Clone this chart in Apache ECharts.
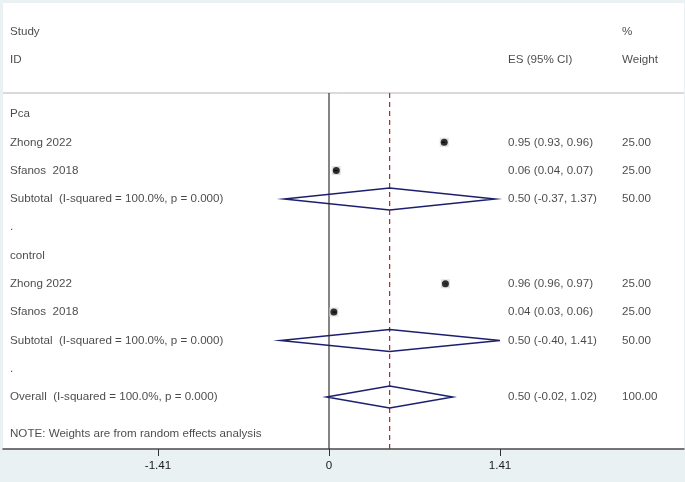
<!DOCTYPE html>
<html><head><meta charset="utf-8">
<script src="https://cdn.jsdelivr.net/npm/echarts@6/dist/echarts.min.js"></script>
<style>html,body{margin:0;padding:0;background:#e9f1f2}#c{width:685px;height:482px}</style>
</head><body><div id="c"></div>
<script>
// ---- data ----
var studyLabels = ['Pca','Zhong 2022','Sfanos  2018','Subtotal  (I-squared = 100.0%, p = 0.000)','.','control','Zhong 2022','Sfanos  2018','Subtotal  (I-squared = 100.0%, p = 0.000)','.','Overall  (I-squared = 100.0%, p = 0.000)'];
var rowType = ['head','study','study','sub','blank','head','study','study','sub','blank','sub'];
var es  = [null,0.95,0.06,0.50,null,null,0.96,0.04,0.50,null,0.50];
var lo  = [null,0.93,0.04,-0.37,null,null,0.96,0.03,-0.40,null,-0.02];
var hi  = [null,0.96,0.07,1.37,null,null,0.97,0.06,1.41,null,1.02];
var esText = ['','0.95 (0.93, 0.96)','0.06 (0.04, 0.07)','0.50 (-0.37, 1.37)','','','0.96 (0.96, 0.97)','0.04 (0.03, 0.06)','0.50 (-0.40, 1.41)','','0.50 (-0.02, 1.02)'];
var weightText = ['','25.00','25.00','50.00','','','25.00','25.00','50.00','','100.00'];
var tickValues = [-1.41, 0, 1.41];
var overallES = 0.50;
var headerTop = ['Study','','%'];
var headerBottom = ['ID','ES (95% CI)','Weight'];
var noteText = 'NOTE: Weights are from random effects analysis';

// ---- layout constants ----
var pxPerUnit = 171/1.41, zeroPx = 329, gridL = 3, gridR = 684;
var xMin = (gridL - zeroPx)/pxPerUnit, xMax = (gridR - zeroPx)/pxPerUnit;
function px2x(p){ return (p - zeroPx)/pxPerUnit; }
var rowPx0 = 114, rowStep = 28.3, gridT = 3, gridB = 449;
var yMin = (gridT - rowPx0)/rowStep, yMax = (gridB - rowPx0)/rowStep;
function px2row(p){ return (p - rowPx0)/rowStep; }
var colLabel = px2x(10), colES = px2x(508), colW = px2x(622);
var sepRow = px2row(93), studyRow = px2row(32), idRow = px2row(60), noteRow = px2row(434);
var font = 'Liberation Sans, Arial, sans-serif';

function textSeries(points){
  return {type:'scatter', symbolSize:0, silent:true, data:points.map(function(p){return {value:[p[0],p[1]], name:p[2]};}),
    label:{show:true, position:'right', distance:0, formatter:'{b}', color:'#1a1a1a', fontSize:11.6, fontFamily:font}, z:5};
}
var textPts = [];
studyLabels.forEach(function(s,i){ textPts.push([colLabel,i,s]); if(esText[i]) textPts.push([colES,i,esText[i]]); if(weightText[i]) textPts.push([colW,i,weightText[i]]); });
textPts.push([colLabel,studyRow,headerTop[0]]); textPts.push([colW,studyRow,headerTop[2]]);
textPts.push([colLabel,idRow,headerBottom[0]]); textPts.push([colES,idRow,headerBottom[1]]); textPts.push([colW,idRow,headerBottom[2]]);
textPts.push([colLabel,noteRow,noteText]);

var studyPts = [], diamonds = [];
for (var i=0;i<es.length;i++){
  if (rowType[i]==='study') studyPts.push([es[i],i,lo[i],hi[i]]);
  if (rowType[i]==='sub') diamonds.push([es[i],i,lo[i],hi[i]]);
}

var chart = echarts.init(document.getElementById('c'));
chart.setOption({
  backgroundColor:'#e9f1f2',
  animation:false,
  grid:{left:gridL, right:685-gridR, top:gridT, bottom:482-gridB, show:true, backgroundColor:'#ffffff', borderWidth:0},
  xAxis:{type:'value', min:xMin, max:xMax, splitLine:{show:false},
    axisLine:{show:true, onZero:false, lineStyle:{color:'#4a4a4a', width:1.5}},
    axisTick:{show:true, customValues:tickValues, length:7, lineStyle:{color:'#333'}},
    axisLabel:{customValues:tickValues, formatter:function(v){return v===0?'0':v.toFixed(2);}, color:'#1a1a1a', fontSize:11.6, fontFamily:font, margin:11}},
  yAxis:{type:'value', min:yMin, max:yMax, inverse:true, show:false},
  series:[
    {type:'custom', silent:true, data:[[0]], z:1, renderItem:function(params, api){
      var a = api.coord([xMin, sepRow]), b = api.coord([xMax, sepRow]);
      var z0 = api.coord([0, sepRow]), z1 = api.coord([0, yMax]);
      var d0 = api.coord([overallES, sepRow]), d1 = api.coord([overallES, yMax]);
      return {type:'group', children:[
        {type:'line', shape:{x1:a[0],y1:a[1],x2:b[0],y2:b[1]}, style:{stroke:'#b5b5b5', lineWidth:1}},
        {type:'line', shape:{x1:z0[0],y1:z0[1],x2:z1[0],y2:z1[1]}, style:{stroke:'#333', lineWidth:1.2}},
        {type:'line', shape:{x1:d0[0],y1:d0[1],x2:d1[0],y2:d1[1]}, style:{stroke:'#b8232a', lineWidth:1.2, lineDash:[5,4]}}
      ]};
    }},
    {type:'custom', silent:true, data:studyPts, z:3, renderItem:function(params, api){
      var p1 = api.coord([api.value(2), api.value(1)]), p2 = api.coord([api.value(3), api.value(1)]);
      return {type:'line', shape:{x1:p1[0],y1:p1[1],x2:p2[0],y2:p2[1]}, style:{stroke:'#000', lineWidth:1}};
    }},
    {type:'scatter', silent:true, data:studyPts.map(function(p){return [p[0],p[1]];}), symbol:'rect', symbolSize:9, itemStyle:{color:'#d8d8d8'}, z:2},
    {type:'scatter', silent:true, data:studyPts.map(function(p){return [p[0],p[1]];}), symbol:'circle', symbolSize:7, itemStyle:{color:'#000'}, z:4},
    {type:'custom', silent:true, data:diamonds, z:4, renderItem:function(params, api){
      var r = api.value(1), h = 11/rowStep;
      var pts = [api.coord([api.value(2), r]), api.coord([api.value(0), r-h]), api.coord([api.value(3), r]), api.coord([api.value(0), r+h])];
      return {type:'polygon', shape:{points:pts}, style:{fill:'none', stroke:'#1c1f6e', lineWidth:1.5}};
    }},
    textSeries(textPts)
  ]
});
</script></body></html>
